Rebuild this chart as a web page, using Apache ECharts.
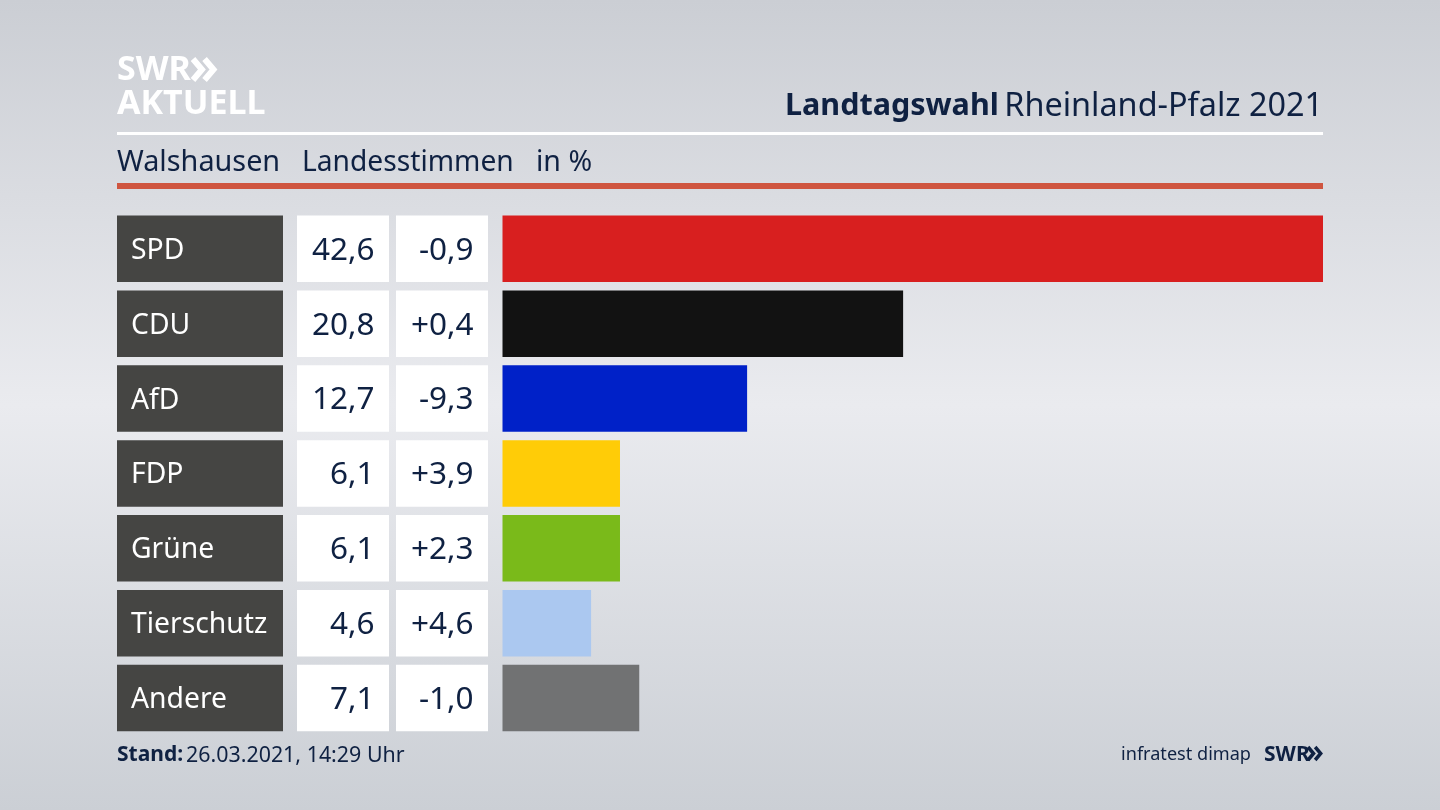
<!DOCTYPE html>
<html>
<head>
<meta charset="utf-8">
<title>Landtagswahl Rheinland-Pfalz 2021</title>
<script src="https://cdn.jsdelivr.net/npm/echarts@6/dist/echarts.min.js"></script>
<style>
html, body { margin: 0; padding: 0; }
#chart { width: 1440px; height: 810px; }
</style>
</head>
<body>
<div id="chart"></div>
<script>
var parties = ['SPD', 'CDU', 'AfD', 'FDP', 'Grüne', 'Tierschutz', 'Andere'];
var shares = [42.6, 20.8, 12.7, 6.1, 6.1, 4.6, 7.1];
var changes = ['-0,9', '+0,4', '-9,3', '+3,9', '+2,3', '+4,6', '-1,0'];
var colors = ['#d81f1f', '#121212', '#0021c8', '#ffcc07', '#7aba1a', '#abc8f0', '#717273'];

var navy = '#0f2142';
var font = '"Noto Sans"';
var rowTop = 211.3, rowBottom = 74.5;
var barHeight = 66.5;

function grid(left, width) {
    return { left: left, width: width, top: rowTop, bottom: rowBottom };
}

function axes(i, max) {
    return {
        x: { type: 'value', gridIndex: i, min: 0, max: max, show: false },
        y: { type: 'category', gridIndex: i, data: parties, inverse: true, show: false }
    };
}

// the three table columns are full-width bars in their own grid
function cellSeries(i, fill, textColor, size, getText, position, distance) {
    return {
        type: 'bar',
        xAxisIndex: i,
        yAxisIndex: i,
        barWidth: barHeight,
        silent: true,
        itemStyle: { color: fill },
        data: parties.map(function () { return 1; }),
        label: {
            show: true,
            position: position,
            distance: distance,
            offset: [0, 2],
            color: textColor,
            fontFamily: font,
            fontSize: size,
            formatter: function (p) { return getText(p.dataIndex); }
        }
    };
}

function text(str, left, top, size, color, weight) {
    return {
        text: str,
        left: left,
        top: top,
        padding: 0,
        textStyle: { color: color, fontFamily: font, fontSize: size, fontWeight: weight || 'normal' }
    };
}

function rect(x, y, w, h, color) {
    return { type: 'rect', shape: { x: x, y: y, width: w, height: h }, style: { fill: color } };
}

function chevrons(x, y, h, w, color) {
    var make = function (dx) {
        return {
            type: 'polyline',
            shape: { points: [[x + dx, y], [x + dx + h / 2 * 0.85, y + h / 2], [x + dx, y + h]] },
            style: { stroke: color, lineWidth: w, fill: null }
        };
    };
    return [make(0), make(h * 0.55)];
}

var a = [axes(0, 1), axes(1, 1), axes(2, 1), axes(3, 42.6)];

var chart = echarts.init(document.getElementById('chart'));

chart.setOption({
    animation: false,
    backgroundColor: {
        type: 'linear', x: 0, y: 0, x2: 0, y2: 1,
        colorStops: [
            { offset: 0, color: '#cbced4' },
            { offset: 0.5, color: '#eaebef' },
            { offset: 1, color: '#cbcfd5' }
        ]
    },
    title: [
        text('SWR', 117, 53, 34, '#ffffff', 'bold'),
        text('AKTUELL', 117, 87, 34, '#ffffff', 'bold'),
        text('Landtagswahl', 785, 91, 30.5, navy, 'bold'),
        {
            text: 'Rheinland-Pfalz 2021',
            right: 117,
            top: 91,
            padding: 0,
            textStyle: { color: navy, fontFamily: font, fontSize: 32.4, fontWeight: 'normal' }
        },
        text('Walshausen', 117, 148, 28.8, navy),
        text('Landesstimmen', 302, 149, 28.2, navy),
        text('in %', 536, 148, 28.5, navy),
        text('Stand:', 117, 745, 21, navy, 'bold'),
        text('26.03.2021, 14:29 Uhr', 186, 745, 21.4, navy),
        {
            text: 'infratest dimap',
            right: 189,
            top: 746,
            padding: 0,
            textStyle: { color: navy, fontFamily: font, fontSize: 18.1, fontWeight: 'normal' }
        },
        text('SWR', 1264, 745, 21, navy, 'bold')
    ],
    graphic: [
        rect(117, 132, 1206, 3, '#ffffff'),
        rect(117, 183, 1206, 6, '#cf5540')
    ].concat(chevrons(193, 59, 21, 6, '#ffffff'), chevrons(1308, 747, 13, 3.5, navy)),
    grid: [grid(117, 166), grid(297, 92), grid(396, 92), grid(502.5, 820.5)],
    xAxis: a.map(function (d) { return d.x; }),
    yAxis: a.map(function (d) { return d.y; }),
    series: [
        cellSeries(0, '#454543', '#ffffff', 28.3, function (i) { return parties[i]; }, 'insideLeft', 14),
        cellSeries(1, '#ffffff', navy, 31.5, function (i) { return shares[i].toFixed(1).replace('.', ','); }, 'insideRight', 14.5),
        cellSeries(2, '#ffffff', navy, 31.5, function (i) { return changes[i]; }, 'insideRight', 14.5),
        {
            type: 'bar',
            xAxisIndex: 3,
            yAxisIndex: 3,
            barWidth: barHeight,
            silent: true,
            data: shares.map(function (v, i) {
                return { value: v, itemStyle: { color: colors[i] } };
            })
        }
    ]
});
</script>
</body>
</html>
